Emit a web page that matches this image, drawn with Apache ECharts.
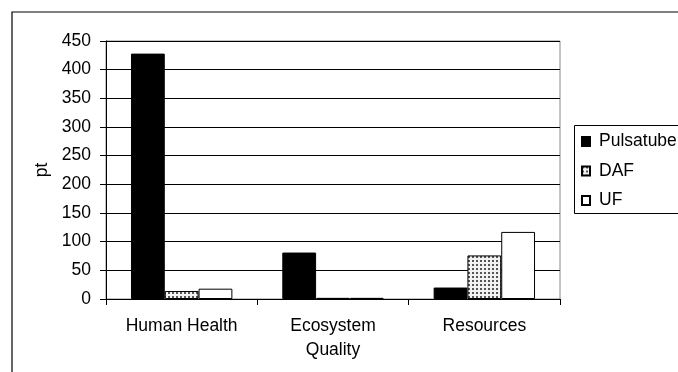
<!DOCTYPE html>
<html>
<head>
<meta charset="utf-8">
<script src="https://cdn.jsdelivr.net/npm/echarts@6/dist/echarts.min.js"></script>
<style>
  html, body { margin: 0; padding: 0; background: #fff; }
  #chart { width: 678px; height: 372px; }
</style>
</head>
<body>
<div id="chart"></div>
<script>
// Impact categories and scores (pt) per treatment technology
const categories = ['Human Health', 'Ecosystem\nQuality', 'Resources'];
const pulsatube = [428, 81, 20];
const daf = [14, 2, 76];
const uf = [18, 2, 117];
const yTicks = { min: 0, max: 450, interval: 50 };

const FONT = '"Liberation Sans", Arial, sans-serif';

// Dotted fill used for the DAF bars
function dotPattern() {
  const c = document.createElement('canvas');
  c.width = 4; c.height = 4;
  const g = c.getContext('2d');
  g.fillStyle = '#f2f2f2';
  g.fillRect(0, 0, 4, 4);
  g.fillStyle = '#555';
  g.fillRect(0, 0, 2, 2);
  return c;
}

const chart = echarts.init(document.getElementById('chart'), null, { renderer: 'canvas' });

const barBase = {
  type: 'bar',
  barGap: '0%',
  barCategoryGap: '33%',
  emphasis: { disabled: true }
};

chart.setOption({
  backgroundColor: '#fff',
  animation: false,
  textStyle: { fontFamily: FONT },
  graphic: [
    { type: 'rect', shape: { x: 12, y: 12, width: 700, height: 400 },
      style: { fill: 'none', stroke: '#000', lineWidth: 1.2 }, z: 0 },
    { type: 'rect', shape: { x: 574.5, y: 125.5, width: 200, height: 88 },
      style: { fill: '#fff', stroke: '#000', lineWidth: 1 }, z: 1 }
  ],
  grid: {
    left: 106, right: 118, top: 41, bottom: 73,
    show: true, borderColor: '#888', borderWidth: 1, backgroundColor: 'transparent'
  },
  legend: {
    orient: 'vertical',
    left: 581, top: 131.5,
    icon: 'rect',
    itemWidth: 8, itemHeight: 9,
    itemGap: 9.5,
    padding: 0,
    z: 5,
    textStyle: { fontFamily: FONT, fontSize: 17.5, color: '#000', lineHeight: 20, padding: [0, 0, 0, 4] },
    data: ['Pulsatube', 'DAF', 'UF']
  },
  xAxis: {
    type: 'category',
    data: categories,
    axisLine: { lineStyle: { color: '#000', width: 1 } },
    axisTick: { show: true, length: 6, lineStyle: { color: '#000' } },
    axisLabel: { color: '#000', fontFamily: FONT, fontSize: 17.5, lineHeight: 24, margin: 15 }
  },
  yAxis: {
    type: 'value',
    min: yTicks.min, max: yTicks.max, interval: yTicks.interval,
    name: 'pt',
    nameLocation: 'middle',
    nameGap: 51,
    nameRotate: 90,
    nameTextStyle: { color: '#000', fontFamily: FONT, fontSize: 17.5 },
    axisLine: { show: true, lineStyle: { color: '#000', width: 1 } },
    axisTick: { show: true, length: 6, lineStyle: { color: '#000' } },
    axisLabel: { color: '#000', fontFamily: FONT, fontSize: 17.5, margin: 15 },
    splitLine: { show: true, lineStyle: { color: '#000', width: 1 } }
  },
  series: [
    Object.assign({}, barBase, { name: 'Pulsatube', data: pulsatube,
      itemStyle: { color: '#000', borderColor: '#000', borderWidth: 1 } }),
    Object.assign({}, barBase, { name: 'DAF', data: daf,
      itemStyle: { color: { image: dotPattern(), repeat: 'repeat' }, borderColor: '#000', borderWidth: 1 } }),
    Object.assign({}, barBase, { name: 'UF', data: uf,
      itemStyle: { color: '#fff', borderColor: '#000', borderWidth: 1 } })
  ]
});
</script>
</body>
</html>
